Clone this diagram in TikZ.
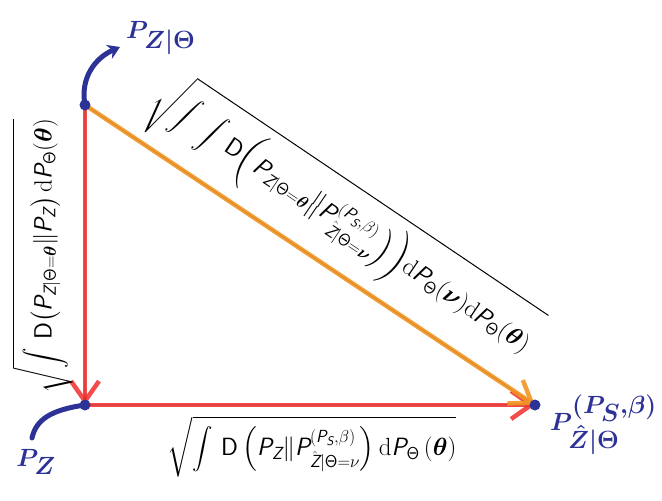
\documentclass[tikz,border=0pt]{standalone}
\usepackage{amsmath,bm,graphicx}
\usetikzlibrary{arrows.meta}
\definecolor{pen}{RGB}{45,50,150}
\definecolor{redpen}{RGB}{240,45,45}
\definecolor{orangepen}{RGB}{242,150,35}
\newcommand{\sTh}{\mathsf{\Theta}}
\newcommand{\sP}{\text{\sffamily\itshape P}}
\newcommand{\sZ}{\text{\sffamily\itshape Z}}
\newcommand{\sS}{\text{\sffamily\itshape S}}
\newcommand{\mint}{\mathop{\vcenter{\hbox{\scalebox{0.82}{$\displaystyle\int$}}}}\nolimits}
\begin{document}
\begin{tikzpicture}[x=1pt,y=-1pt,
  formula/.style={inner sep=0pt, font=\fontsize{25}{30}\selectfont},
  hand/.style={text=pen, inner sep=0pt, font=\fontsize{46}{50}\selectfont\boldmath},
  edgeline/.style={draw=black, line width=0.9pt},
  redarrow/.style={draw=redpen, line width=4.5pt, opacity=0.85, line cap=round, line join=round,
    -{Straight Barb[length=20pt,width=28pt,line width=4.5pt]}},
  orangearrow/.style={draw=orangepen, line width=4.5pt, opacity=0.9, line cap=round, line join=round,
    -{Straight Barb[length=20pt,width=28pt,line width=4.5pt]}},
  dot/.style={circle, fill=pen, inner sep=0pt, minimum size=11pt},
  penline/.style={draw=pen, line width=5pt, line cap=round}
]
\useasboundingbox (0,0) rectangle (662,501);
\coordinate (A) at (85,105);
\coordinate (B) at (85,405);
\coordinate (C) at (535,405);

% thin triangle
\draw[edgeline] (A) -- (B) -- (C) -- cycle;

% coloured arrows
\draw[redarrow] (A) -- (B);
\draw[redarrow] (B) -- (C);
\draw[orangearrow] (A) -- (C);

% corner dots
\node[dot] (dA) at (A) {};
\node[dot] (dB) at (B) {};
\node[dot] (dC) at (C) {};

% formulas
\node[formula, rotate=90, anchor=north] (lf) at (12,256)
  {$\displaystyle\sqrt{\mint\,\mathsf{D}\bigl(\sP_{\sZ|\sTh=\bm\theta}\|\sP_{\sZ}\bigr)\,\mathrm{d}\sP_{\sTh}(\bm\theta)}$};
\node[formula, rotate=-34, anchor=north] (df) at (364,189)
  {$\displaystyle\sqrt{\mint\;\mint\,\mathsf{D}\biggl(\sP_{\sZ|\sTh=\bm\theta}\big\|\sP^{(\sP_{\sS},\beta)}_{\hat \sZ|\sTh=\bm\nu}\Bigr)\biggr)\mathrm{d}\sP_{\sTh}(\bm\nu)\mathrm{d}\sP_{\sTh}(\bm\theta)}$};
\node[formula, anchor=north] (bf) at (312,416)
  {$\displaystyle\sqrt{\mint\,\mathsf{D}\left(\sP_{\sZ}\|\sP^{(\sP_{\sS},\beta)}_{\hat \sZ|\sTh=\nu}\right)\mathrm{d}\sP_{\sTh}\left(\bm\theta\right)}$};

% handwritten labels
\node[hand, anchor=west] (tl) at (126,38) {$P_{Z|\Theta}$};
\node[hand] (bl) at (36,462) {$P_Z$};
\node[hand, anchor=west] (brl) at (550,425) {$P^{(P_S,\beta)}_{\hat Z|\Theta}$};

\coordinate (tend) at (120,47);
\coordinate (bstart) at (32,438);
\draw[penline, -{Stealth[length=12pt,width=15pt]}] (dA.center) .. controls (80,78) and (95,58) .. (tend);
\draw[penline] (bstart) .. controls (36,420) and (50,410) .. (dB.center);
\end{tikzpicture}
\end{document}
